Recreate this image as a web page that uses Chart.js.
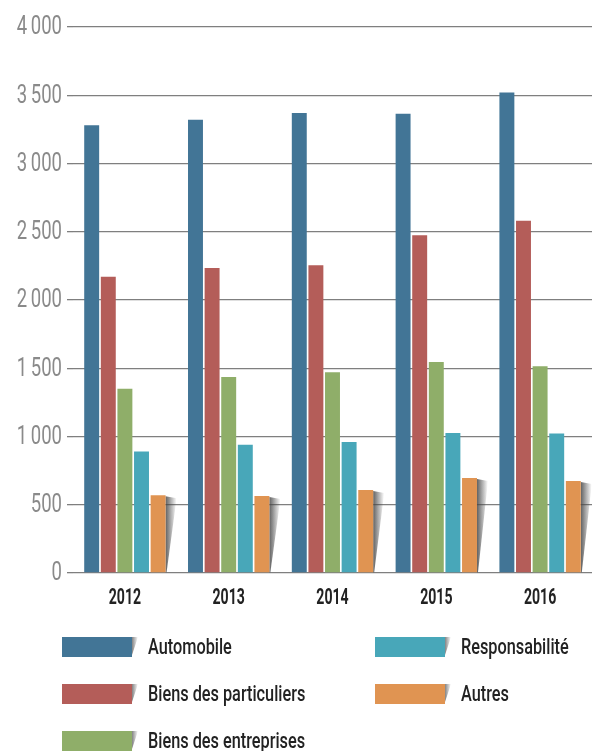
<!DOCTYPE html>
<html>
<head>
<meta charset="utf-8">
<script src="https://cdn.jsdelivr.net/npm/chart.js@4"></script>
<style>
  html, body { margin: 0; padding: 0; background: #fff; }
  body { width: 594px; height: 751px; overflow: hidden; position: relative; font-family: Roboto, sans-serif; }
  #wrap { position: absolute; left: 0; top: 0; width: 594px; height: 620px; }
  #legend { position: absolute; left: 0; top: 0; width: 594px; height: 751px; }
  .item { position: absolute; height: 20px; }
  .box { position: absolute; left: 0; top: 0; width: 70px; height: 20px; }
  .box::after { content: ""; position: absolute; left: 70px; top: 0; width: 6px; height: 18px;
                background: linear-gradient(to right, rgba(90,90,90,0.75), rgba(90,90,90,0));
                clip-path: polygon(0 0, 100% 0, 0 100%); }
  .lbl { position: absolute; left: 86px; top: -5px; font-size: 22px; line-height: 30px; font-weight: 500;
         color: #222; white-space: nowrap; transform: scaleX(0.74); transform-origin: 0 50%; }
</style>
</head>
<body>
<div id="wrap"><canvas id="barChart" width="594" height="620"></canvas></div>
<div id="legend"></div>
<script>
const years = ['2012', '2013', '2014', '2015', '2016'];
const automobile = [3280, 3320, 3370, 3365, 3520];
const biensParticuliers = [2170, 2235, 2255, 2475, 2580];
const biensEntreprises = [1350, 1435, 1470, 1545, 1515];
const responsabilite = [890, 940, 960, 1025, 1022];
const autres = [570, 565, 608, 696, 674];
const seriesNames = ['Automobile', 'Biens des particuliers', 'Biens des entreprises', 'Responsabilité', 'Autres'];
const seriesColors = ['#427596', '#b45d59', '#8fae69', '#48a7b9', '#e09452'];
const yTicks = [0, 500, 1000, 1500, 2000, 2500, 3000, 3500, 4000];

function fmt(v) {
    return v >= 1000 ? Math.floor(v / 1000) + '\u2009' + String(v % 1000).padStart(3, '0') : String(v);
}

// soft grey shadow to the right of the "Autres" bars
const shadowPlugin = {
    id: 'barShadow',
    beforeDatasetsDraw(chart) {
        const ctx = chart.ctx;
        const meta = chart.getDatasetMeta(4);
        meta.data.forEach(bar => {
            const right = bar.x + bar.width / 2;
            const top = bar.y;
            const bottom = bar.base;
            const g = ctx.createLinearGradient(right, 0, right + 11, 0);
            g.addColorStop(0, 'rgba(70,70,70,0.85)');
            g.addColorStop(1, 'rgba(70,70,70,0)');
            ctx.save();
            ctx.fillStyle = g;
            ctx.beginPath();
            ctx.moveTo(right, top + 1);
            ctx.lineTo(right + 11, top + 3);
            ctx.lineTo(right + 1, bottom);
            ctx.lineTo(right, bottom);
            ctx.closePath();
            ctx.fill();
            ctx.restore();
        });
    }
};

// condensed tick labels (the original uses a narrow font we don't have)
function drawNarrow(ctx, text, x, y, align, sx) {
    ctx.save();
    ctx.translate(x, y);
    ctx.scale(sx, 1);
    ctx.textAlign = align;
    ctx.textBaseline = 'middle';
    ctx.fillText(text, 0, 0);
    ctx.restore();
}

const labelPlugin = {
    id: 'narrowLabels',
    afterDraw(chart) {
        const ctx = chart.ctx;
        const y = chart.scales.y;
        const x = chart.scales.x;
        ctx.save();
        ctx.fillStyle = '#8a8a8a';
        ctx.font = '400 25px Roboto';
        y.ticks.forEach(t => {
            drawNarrow(ctx, fmt(t.value), 62, y.getPixelForValue(t.value) + 1, 'right', 0.74);
        });
        ctx.fillStyle = '#222';
        ctx.font = '700 22px Roboto';
        years.forEach((lab, i) => {
            drawNarrow(ctx, lab, x.getPixelForValue(i), 598, 'center', 0.64);
        });
        ctx.restore();
    }
};

const allData = [automobile, biensParticuliers, biensEntreprises, responsabilite, autres];

const ctx = document.getElementById('barChart').getContext('2d');
const myBarChart = new Chart(ctx, {
    type: 'bar',
    data: {
        labels: years,
        datasets: allData.map((d, i) => ({
            label: seriesNames[i],
            data: d,
            backgroundColor: seriesColors[i],
            borderWidth: 0
        }))
    },
    options: {
        responsive: false,
        animation: false,
        layout: { padding: { top: 27, left: 0, right: 2, bottom: 0 } },
        plugins: { legend: { display: false }, tooltip: { enabled: false } },
        scales: {
            x: {
                grid: { display: false },
                border: { display: false },
                categoryPercentage: 0.86,
                barPercentage: 1,
                ticks: { display: false },
                afterFit(scale) { scale.height = 47; }
            },
            y: {
                min: 0,
                max: 4000,
                afterBuildTicks(axis) { axis.ticks = yTicks.map(v => ({ value: v })); },
                grid: { color: '#7f7f7f', lineWidth: 1.3, tickLength: 6 },
                border: { display: false },
                ticks: { display: false },
                afterFit(scale) { scale.width = 73; }
            }
        }
    },
    plugins: [shadowPlugin, labelPlugin]
});

// legend in two columns like the original
const legendPos = [[62, 637], [62, 684], [62, 731], [375, 637], [375, 684]];
const legendEl = document.getElementById('legend');
seriesNames.forEach((name, i) => {
    const item = document.createElement('div');
    item.className = 'item';
    item.style.left = legendPos[i][0] + 'px';
    item.style.top = legendPos[i][1] + 'px';
    item.innerHTML = '<div class="box" style="background:' + seriesColors[i] + '"></div><span class="lbl">' + name + '</span>';
    legendEl.appendChild(item);
});
</script>
</body>
</html>
